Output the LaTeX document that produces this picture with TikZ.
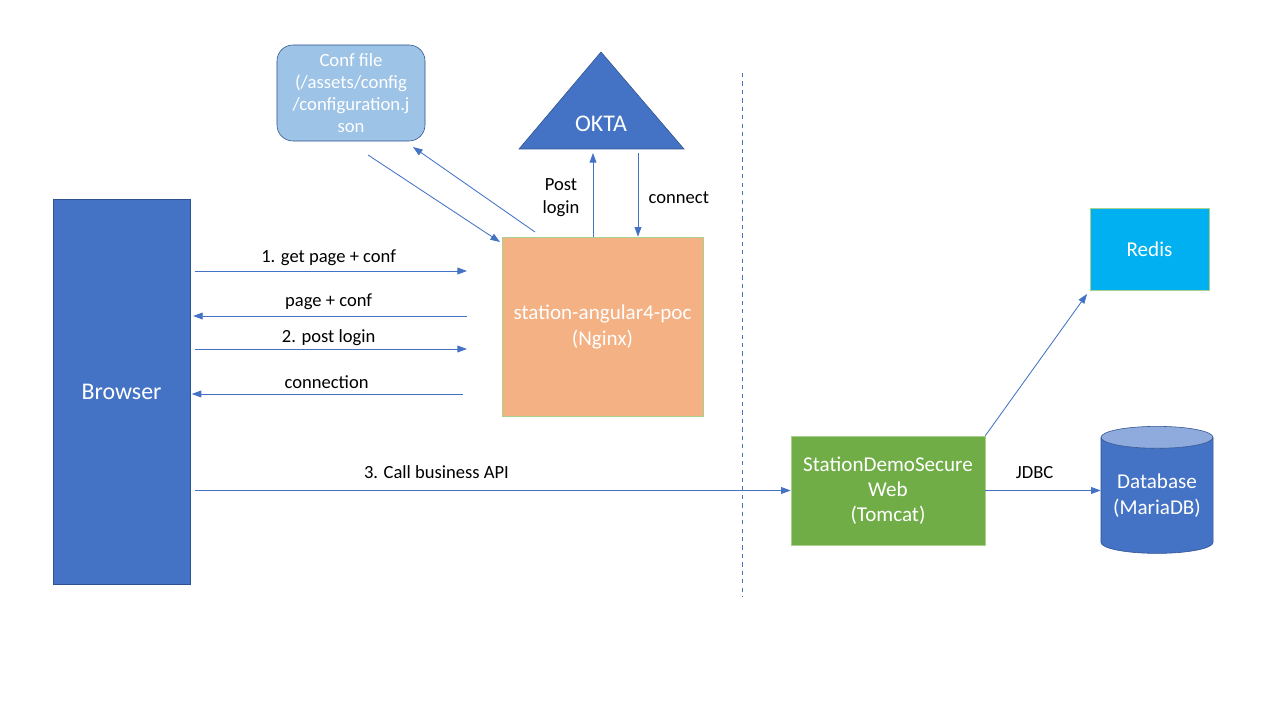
\documentclass[tikz,border=0pt]{standalone}
\usepackage{fontspec}
\setmainfont{Carlito}
\usetikzlibrary{arrows.meta,shapes.geometric}
\definecolor{boxblue}{HTML}{4472C4}
\definecolor{edgeblue}{HTML}{2F528F}
\definecolor{confblue}{HTML}{9DC3E6}
\definecolor{nginxorange}{HTML}{F4B183}
\definecolor{lightgreen}{HTML}{A9D18E}
\definecolor{tomgreen}{HTML}{70AD47}
\definecolor{redisblue}{HTML}{00B0F0}
\definecolor{dbtop}{HTML}{8FAADC}
\tikzset{
  box/.style = {draw, text = white, align = center, inner sep = 0pt},
  flow/.style = {draw = boxblue, line width = 0.6pt, -{Triangle[length = 2.4mm, width = 1.7mm]}},
  lbl/.style = {font = \fontsize{13.2}{16.5}\selectfont, align = center}
}
\begin{document}
\begin{tikzpicture}[x = 0.025cm, y = -0.025cm]
    \useasboundingbox[fill = white] (0,0) rectangle (1280,720);
    \node[box, fill = boxblue, draw = edgeblue, minimum width = 3.425cm, minimum height = 9.625cm,
          font = \fontsize{17}{20}\selectfont] (browser) at (121.5,391.5) {Browser};
    \node[box, fill = confblue, draw = edgeblue, rounded corners = 0.4cm, minimum width = 3.7cm, minimum height = 2.4cm,
          font = \fontsize{13.3}{15.8}\selectfont] (conf) at (351,93) {Conf file\\(/assets/config\\/configuration.j\\son};
    \draw[fill = boxblue, draw = edgeblue] (601,52) -- (684,149) -- (519,149) -- cycle;
    \node[text = white, font = \fontsize{17}{20}\selectfont] (okta) at (601,124) {OKTA};
    \node[box, fill = nginxorange, draw = lightgreen, minimum width = 5.025cm, minimum height = 4.475cm,
          font = \fontsize{15}{18.5}\selectfont] (nginx) at (602.5,326.5) {station-angular4-poc\\(Nginx)};
    \node[box, fill = tomgreen, draw = lightgreen, minimum width = 4.85cm, minimum height = 2.725cm,
          font = \fontsize{15}{18}\selectfont] (tomcat) at (888,490.5) {StationDemoSecure\\Web\\(Tomcat)};
    \node[box, fill = redisblue, draw = lightgreen, minimum width = 2.975cm, minimum height = 2.05cm,
          font = \fontsize{15}{18}\selectfont] (redis) at (1149.5,249) {Redis};
    \node[box, cylinder, shape border rotate = 90, aspect = 0.25, draw = edgeblue,
          cylinder uses custom fill, cylinder body fill = boxblue, cylinder end fill = dbtop,
          minimum width = 2.8cm, minimum height = 3.175cm,
          font = \fontsize{15}{18}\selectfont] (db) at (1157,495.5) {Database\\(MariaDB)};
    \draw[boxblue, dashed, line width = 0.6pt] (742,73) -- (742,597);
    % browser <-> nginx
    \coordinate (g1) at (467,271);
    \coordinate (g2) at (467,316);
    \coordinate (g3) at (467,349);
    \coordinate (g4) at (463,394);
    \draw[flow, shorten < = 3pt] (browser.east |- g1) -- (g1) node[lbl, midway, above = 0pt] {1. get page + conf};
    \draw[flow, shorten > = 2pt] (g2) -- (browser.east |- g2) node[lbl, midway, above = 1pt] {page + conf};
    \draw[flow, shorten < = 3pt] (browser.east |- g3) -- (g3) node[lbl, midway, above = -1pt] {2. post login};
    \draw[flow, shorten > = 1pt] (g4) -- (browser.east |- g4) node[lbl, midway, above = 0pt] {connection};
    % conf file
    \coordinate (c1) at (368,155);
    \coordinate (c2) at (535,232);
    \draw[flow] (c1) -- (500,242);
    \draw[flow] (c2) -- (413,147);
    % okta
    \coordinate (o1) at (593,153);
    \coordinate (o2) at (638,153);
    \draw[flow] (nginx.north -| o1) -- (o1) node[lbl, midway, left = 6pt, yshift = -2pt] {Post\\login};
    \draw[flow] (o2) -- (nginx.north -| o2) node[lbl, midway, right = 4pt, yshift = -2pt] {connect};
    % backend
    \coordinate (r1) at (1087,294);
    \draw[flow, shorten < = 3pt] (browser.east |- tomcat.west) -- (tomcat.west) node[lbl, pos = 0.41, above = 5pt] {3. Call business API};
    \draw[flow] (tomcat.north east) -- (r1);
    \draw[flow] (tomcat.east) -- (tomcat.east -| db.west) node[lbl, midway, above = 5pt, xshift = -6pt] {JDBC};
\end{tikzpicture}
\end{document}
